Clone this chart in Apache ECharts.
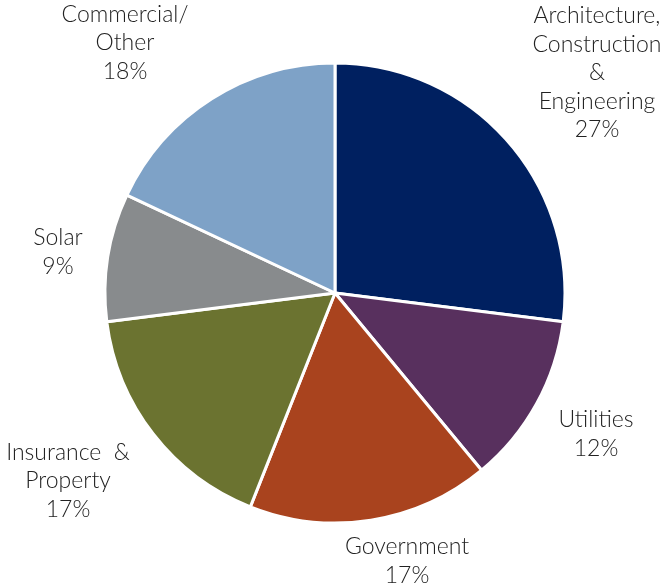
<!DOCTYPE html>
<html>
<head>
<meta charset="utf-8">
<script src="https://cdn.jsdelivr.net/npm/echarts@6/dist/echarts.min.js"></script>
<style>
  html, body { margin: 0; padding: 0; background: #ffffff; }
  #chart { width: 669px; height: 585px; }
</style>
</head>
<body>
<div id="chart"></div>
<script>
// Sector share, clockwise from 12 o'clock
const categories = [
  'Architecture,\nConstruction\n&\nEngineering',
  'Utilities',
  'Government',
  'Insurance  &\nProperty',
  'Solar',
  'Commercial/\nOther'
];
const shares = [27, 12, 17, 17, 9, 18];
const colors = ['#002060', '#58305E', '#A9431E', '#6B7330', '#888B8D', '#7EA2C7'];
// Label anchor points (centre of each text block)
const labelSpots = [[597, 73], [596, 434], [407, 561], [68, 481], [58, 252], [125, 43]];

const chart = echarts.init(document.getElementById('chart'), null, { renderer: 'canvas' });

chart.setOption({
  backgroundColor: '#ffffff',
  animation: false,
  series: [{
    type: 'pie',
    center: [335, 293],
    radius: [0, 230],
    startAngle: 90,
    clockwise: true,
    avoidLabelOverlap: false,
    data: categories.map((name, i) => ({
      name: name,
      value: shares[i],
      itemStyle: { color: colors[i] }
    })),
    itemStyle: { borderColor: '#ffffff', borderWidth: 3 },
    label: {
      show: true,
      position: 'outside',
      formatter: p => p.name + '\n' + p.value + '%',
      fontFamily: 'Lato',
      fontWeight: 300,
      fontSize: 23,
      lineHeight: 28.5,
      color: '#222222',
      align: 'center'
    },
    labelLine: { show: false },
    labelLayout: params => {
      const s = labelSpots[params.dataIndex];
      return { x: s[0], y: s[1], align: 'center', verticalAlign: 'middle' };
    }
  }]
});
</script>
</body>
</html>
